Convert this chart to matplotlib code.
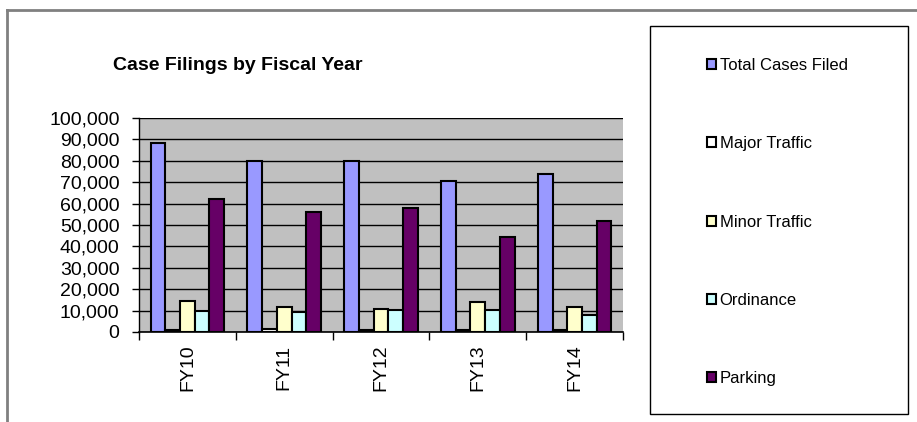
import matplotlib.pyplot as plt
from matplotlib.lines import Line2D
from matplotlib.patches import Rectangle
from matplotlib.ticker import FuncFormatter, MultipleLocator
import numpy as np

plt.rcParams['font.family'] = ['Liberation Sans', 'DejaVu Sans']

years = ['FY10', 'FY11', 'FY12', 'FY13', 'FY14']
total_cases = [88500, 79800, 79800, 70600, 73800]
major_traffic = [1100, 1400, 900, 1000, 1100]
minor_traffic = [14500, 11800, 10600, 14000, 11700]
ordinance = [10000, 9300, 10100, 10400, 8100]
parking = [62300, 55900, 57800, 44600, 52000]

series = [
    ('Total Cases Filed', total_cases, '#9999FF'),
    ('Major Traffic', major_traffic, '#FFFFFF'),
    ('Minor Traffic', minor_traffic, '#FFFFCC'),
    ('Ordinance', ordinance, '#CCFFFF'),
    ('Parking', parking, '#660066'),
]

W, H = 917, 422
fig = plt.figure(figsize=(W / 100, H / 100), dpi=100)
ax = fig.add_axes([139 / W, 1 - 332 / H, 484 / W, 214 / H])
ax.set_facecolor('#C0C0C0')

x = np.arange(len(years))
bw = 0.152
handles = []
for j, (name, vals, col) in enumerate(series):
    b = ax.bar(x + (j - 2) * bw, vals, bw, color=col, edgecolor='black',
               linewidth=1.5, label=name, zorder=3)
    handles.append(b)

ax.set_xlim(-0.5, len(years) - 0.5)
ax.set_ylim(0, 100000)
ax.yaxis.set_major_locator(MultipleLocator(10000))
ax.yaxis.set_major_formatter(FuncFormatter(lambda v, p: '{:,.0f}'.format(v)))
ax.grid(axis='y', color='black', linewidth=1, zorder=1)
ax.set_axisbelow(True)

ax.set_xticks(x)
ax.set_xticklabels(years, rotation=90, fontsize=14)
ax.set_xticks(np.arange(-0.5, len(years)), minor=True)
ax.tick_params(axis='x', which='major', length=0, pad=9)
ax.tick_params(axis='x', which='minor', length=6, width=1, color='black')
ax.tick_params(axis='y', length=5, width=1, labelsize=14, pad=9)

for s in ['top', 'right']:
    ax.spines[s].set_visible(False)
ax.spines['left'].set_linewidth(1)
ax.spines['bottom'].set_linewidth(1.2)

fig.text(238 / W, 1 - 65 / H, 'Case Filings by Fiscal Year', fontsize=14,
         fontweight='bold', ha='center', va='center')

# outer chart frame
fig.add_artist(Line2D([7 / W, 1], [1 - 10 / H, 1 - 10 / H], color='#808080',
                      linewidth=2, transform=fig.transFigure))
fig.add_artist(Line2D([7 / W, 7 / W], [0, 1 - 10 / H], color='#808080',
                      linewidth=2, transform=fig.transFigure))

# legend box
fig.add_artist(Rectangle((650 / W, 1 - 414 / H), 258 / W, 388 / H,
                         fill=False, edgecolor='black', linewidth=1,
                         transform=fig.transFigure))
fig.legend(handles=handles, loc='upper left',
           bbox_to_anchor=(707 / W, 1 - 58 / H), frameon=False, fontsize=12,
           borderpad=0, borderaxespad=0, handlelength=0.55, handleheight=0.55,
           handletextpad=0.2, labelspacing=3.8)

fig.savefig('out.png', dpi=100)
